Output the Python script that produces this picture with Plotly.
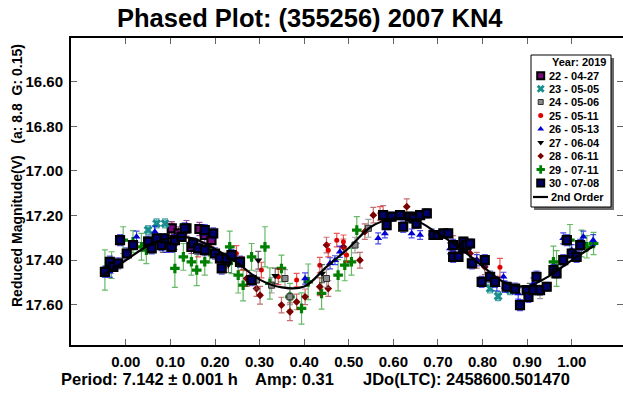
import plotly.graph_objects as go

# ---- second-order Fourier fit, sampled along phase ----
fit_phase = [-0.05, 0.00, 0.05, 0.10, 0.15, 0.20, 0.25, 0.30, 0.35, 0.40, 0.45, 0.50,
             0.55, 0.60, 0.65, 0.70, 0.75, 0.80, 0.85, 0.90, 0.95, 1.00, 1.05]
fit_mag = [17.465, 17.400, 17.335, 17.300, 17.302, 17.350, 17.412, 17.487, 17.522, 17.518,
           17.430, 17.345, 17.250, 17.213, 17.222, 17.280, 17.347, 17.427, 17.500, 17.517,
           17.470, 17.400, 17.335]

# ---- sessions (phase, reduced magnitude, error) ----
s22_phase = [0.103, 0.118, 0.136, 0.147, 0.165, 0.177, 0.192]
s22_mag = [17.257, 17.280, 17.257, 17.340, 17.260, 17.287, 17.310]
s22_err = [0.030, 0.030, 0.035, 0.030, 0.030, 0.035, 0.030]

s23_phase = [0.050, 0.069, 0.088, 0.129, 0.817, 0.835, 0.862]
s23_mag = [17.265, 17.235, 17.235, 17.257, 17.527, 17.561, 17.534]
s23_err = [0.020, 0.020, 0.020, 0.020, 0.020, 0.020, 0.020]

s24_phase = [0.224, 0.293, 0.327, 0.357, 0.368, 0.450, 0.514, 0.544, 0.929]
s24_mag = [17.400, 17.489, 17.512, 17.482, 17.564, 17.482, 17.332, 17.257, 17.542]
s24_err = [0.035, 0.040, 0.035, 0.040, 0.035, 0.040, 0.035, 0.040, 0.030]

s25_phase = [0.103, 0.162, 0.248, 0.260, 0.304, 0.342, 0.383, 0.435, 0.454, 0.473,
             0.488, 0.495, 0.570, 0.839]
s25_mag = [17.265, 17.355, 17.370, 17.414, 17.444, 17.474, 17.489, 17.422, 17.355, 17.310,
           17.317, 17.377, 17.190, 17.432]
s25_err = [0.030, 0.030, 0.035, 0.030, 0.035, 0.035, 0.030, 0.035, 0.030, 0.030,
           0.030, 0.030, 0.030, 0.040]

s26_phase = [-0.036, 0.024, 0.065, 0.091, 0.402, 0.458, 0.469, 0.480, 0.566, 0.581,
             0.641, 0.660, 0.686, 0.727, 0.746, 0.787, 0.832, 0.847, 0.850, 0.880,
             0.914, 0.981, 1.000, 1.026, 1.048]
s26_mag = [17.452, 17.295, 17.272, 17.340, 17.482, 17.414, 17.400, 17.362, 17.302, 17.280,
           17.280, 17.287, 17.280, 17.347, 17.340, 17.400, 17.512, 17.474, 17.519, 17.549,
           17.504, 17.302, 17.355, 17.295, 17.310]
s26_err = [0.025, 0.025, 0.025, 0.025, 0.025, 0.025, 0.020, 0.025, 0.025, 0.020,
           0.020, 0.020, 0.020, 0.025, 0.025, 0.025, 0.025, 0.020, 0.025, 0.025,
           0.025, 0.025, 0.025, 0.025, 0.025]

s27_phase = [0.083, 0.230, 0.297, 0.335, 0.440, 0.906]
s27_mag = [17.330, 17.420, 17.400, 17.470, 17.460, 17.534]
s27_err = [0.035, 0.035, 0.040, 0.035, 0.040, 0.030]

s28_phase = [0.271, 0.293, 0.301, 0.349, 0.368, 0.383, 0.402, 0.435, 0.450, 0.454,
             0.488, 0.525, 0.536, 0.555, 0.577, 0.630, 0.734, 0.772, 0.787, 0.805]
s28_mag = [17.482, 17.527, 17.557, 17.601, 17.631, 17.587, 17.564, 17.519, 17.332, 17.527,
           17.340, 17.400, 17.272, 17.198, 17.190, 17.160, 17.325, 17.370, 17.400, 17.430]
s28_err = [0.035, 0.035, 0.040, 0.035, 0.040, 0.035, 0.035, 0.040, 0.035, 0.035,
           0.035, 0.035, 0.035, 0.035, 0.035, 0.035, 0.035, 0.035, 0.035, 0.035]

s29_phase = [-0.047, -0.032, -0.006, 0.016, 0.035, 0.046, 0.110, 0.129, 0.147, 0.159,
             0.177, 0.188, 0.233, 0.237, 0.252, 0.263, 0.282, 0.312, 0.323, 0.349,
             0.368, 0.394, 0.409, 0.439, 0.476, 0.491, 0.506, 0.518, 0.959, 0.966,
             0.996, 1.022, 1.034, 1.049]
s29_mag = [17.444, 17.422, 17.310, 17.317, 17.340, 17.355, 17.437, 17.385, 17.407, 17.444,
           17.407, 17.362, 17.340, 17.400, 17.467, 17.512, 17.385, 17.340, 17.504, 17.437,
           17.564, 17.616, 17.497, 17.549, 17.467, 17.422, 17.407, 17.265, 17.407, 17.437,
           17.310, 17.325, 17.340, 17.325]
s29_err = [0.090, 0.060, 0.060, 0.050, 0.060, 0.060, 0.085, 0.060, 0.060, 0.070,
           0.060, 0.050, 0.070, 0.060, 0.080, 0.070, 0.060, 0.090, 0.070, 0.060,
           0.060, 0.070, 0.080, 0.070, 0.070, 0.070, 0.060, 0.060, 0.070, 0.080,
           0.070, 0.060, 0.050, 0.050]

s30_phase = [-0.047, -0.036, -0.028, -0.017, -0.013, 0.002, 0.016, 0.050, 0.058, 0.069,
             0.080, 0.087, 0.103, 0.110, 0.125, 0.132, 0.151, 0.162, 0.177, 0.177,
             0.196, 0.200, 0.211, 0.215, 0.226, 0.237, 0.256, 0.282,
             0.577, 0.585, 0.596, 0.615, 0.622, 0.637, 0.645, 0.652, 0.660, 0.675,
             0.690, 0.700, 0.712, 0.723, 0.734, 0.734, 0.746, 0.757, 0.757, 0.764,
             0.772, 0.776, 0.798, 0.805, 0.817, 0.828, 0.854, 0.873, 0.884, 0.899,
             0.903, 0.914, 0.921, 0.929, 0.944, 0.959, 0.966, 0.981, 0.989, 1.000,
             1.011, 1.019]
s30_mag = [17.452, 17.407, 17.430, 17.414, 17.310, 17.370, 17.332, 17.317, 17.347, 17.302,
           17.332, 17.302, 17.340, 17.310, 17.295, 17.257, 17.325, 17.347, 17.265, 17.355,
           17.280, 17.370, 17.392, 17.437, 17.392, 17.377, 17.407, 17.489,
           17.198, 17.243, 17.205, 17.198, 17.250, 17.205, 17.213, 17.236, 17.198, 17.190,
           17.287, 17.287, 17.280, 17.280, 17.332, 17.385, 17.385, 17.317, 17.347, 17.332,
           17.325, 17.414, 17.497, 17.400, 17.474, 17.497, 17.519, 17.527, 17.601, 17.534,
           17.564, 17.534, 17.474, 17.534, 17.519, 17.444, 17.459, 17.400, 17.310, 17.370,
           17.385, 17.332]
s30_err = [0.025, 0.025, 0.020, 0.025, 0.025, 0.025, 0.020, 0.025, 0.025, 0.020,
           0.025, 0.020, 0.025, 0.025, 0.020, 0.025, 0.025, 0.025, 0.025, 0.025,
           0.025, 0.025, 0.025, 0.025, 0.020, 0.025, 0.025, 0.025,
           0.020, 0.020, 0.020, 0.020, 0.025, 0.020, 0.020, 0.020, 0.020, 0.020,
           0.020, 0.020, 0.020, 0.020, 0.025, 0.025, 0.020, 0.020, 0.020, 0.020,
           0.020, 0.025, 0.025, 0.025, 0.025, 0.025, 0.020, 0.025, 0.025, 0.020,
           0.025, 0.020, 0.025, 0.020, 0.020, 0.025, 0.020, 0.025, 0.025, 0.020,
           0.025, 0.025]

session_labels = ["22 - 04-27", "23 - 05-05", "24 - 05-06", "25 - 05-11", "26 - 05-13",
                  "27 - 06-04", "28 - 06-11", "29 - 07-11", "30 - 07-08"]

x_ticks = [0.0, 0.1, 0.2, 0.3, 0.4, 0.5, 0.6, 0.7, 0.8, 0.9, 1.0]
y_ticks = [16.6, 16.8, 17.0, 17.2, 17.4, 17.6]

# ---- figure geometry (pixels) ----
W, H = 623, 394
ML, MR, MT, MB = 71, 0, 38, 49
PX0, PX1 = ML, W - MR
PY0, PY1 = MT, H - MB

FONT = "Liberation Sans"

# marker styles per session: symbol, size, fill, outline colour, outline width, error colour
styles = [
    ("square", 8, "#7a0a7a", "#000000", 2.2, "rgba(128,0,128,0.7)"),
    ("x", 8, "#1a8f8f", "#1a8f8f", 0, "rgba(0,128,128,0.65)"),
    ("square", 6, "#8a8a8a", "#303030", 1, "rgba(110,110,110,0.65)"),
    ("circle", 5, "#e00000", "#e00000", 0, "rgba(230,0,0,0.65)"),
    ("triangle-up", 7, "#0000d0", "#0000d0", 0, "rgba(0,0,220,0.7)"),
    ("triangle-down", 7, "#000000", "#000000", 0, "rgba(40,40,40,0.7)"),
    ("diamond", 6, "#7a0000", "#7a0000", 0, "rgba(150,20,20,0.6)"),
    ("cross", 8, "#008000", "#008000", 0, "rgba(0,140,0,0.6)"),
    ("square", 8, "#00006a", "#000000", 2.2, "rgba(20,20,210,0.7)"),
]

series = [
    (s22_phase, s22_mag, s22_err),
    (s23_phase, s23_mag, s23_err),
    (s24_phase, s24_mag, s24_err),
    (s25_phase, s25_mag, s25_err),
    (s26_phase, s26_mag, s26_err),
    (s27_phase, s27_mag, s27_err),
    (s28_phase, s28_mag, s28_err),
    (s29_phase, s29_mag, s29_err),
    (s30_phase, s30_mag, s30_err),
]

fig = go.Figure()

# draw order: green session underneath, black squares on top
order = [7, 6, 3, 2, 5, 0, 1, 4, 8]
for i in order:
    ph, mg, er = series[i]
    sym, size, fill, line_c, line_w, err_c = styles[i]
    fig.add_trace(go.Scatter(
        x=ph, y=mg, mode="markers", name=session_labels[i], showlegend=False,
        marker=dict(symbol=sym, size=size, color=fill, line=dict(color=line_c, width=line_w)),
        error_y=dict(type="data", array=er, visible=True, color=err_c, thickness=1.2, width=3),
    ))

fig.add_trace(go.Scatter(
    x=fit_phase, y=fit_mag, mode="lines", name="2nd Order", showlegend=False,
    line=dict(color="black", width=2.2, shape="spline", smoothing=1.0),
))

# legend symbols drawn on a pixel-space overlay axis
leg_x_marker = 540.7
leg_rows = [75.7, 88.7, 102.0, 115.5, 129.0, 142.5, 156.0, 169.5, 183.0]
for i, yy in enumerate(leg_rows):
    sym, size, fill, line_c, line_w, err_c = styles[i]
    fig.add_trace(go.Scatter(
        x=[leg_x_marker], y=[yy], xaxis="x2", yaxis="y2", mode="markers", showlegend=False,
        hoverinfo="skip",
        marker=dict(symbol=sym, size=max(size - 1, 5), color=fill,
                    line=dict(color=line_c, width=min(line_w, 2))),
    ))

# empty trace to carry the right-hand tick axis
fig.add_trace(go.Scatter(x=[], y=[], yaxis="y3", showlegend=False))

shapes = [
    # legend shadow and box
    dict(type="rect", xref="x2", yref="y2", x0=534, x1=614, y0=58, y1=210,
         fillcolor="#6a6a6a", line=dict(width=0), layer="below"),
    dict(type="rect", xref="x2", yref="y2", x0=531, x1=611, y0=55, y1=207,
         fillcolor="white", line=dict(color="black", width=1), layer="below"),
    dict(type="line", xref="x2", yref="y2", x0=533, x1=548, y0=197.0, y1=197.0,
         line=dict(color="black", width=2.2)),
]

ann = []
ann.append(dict(xref="x2", yref="y2", x=607.5, y=61.5, text="Year: 2019", showarrow=False,
                xanchor="right", yanchor="middle",
                font=dict(family=FONT, size=11, color="black", weight="bold")))
for i, yy in enumerate(leg_rows):
    ann.append(dict(xref="x2", yref="y2", x=546.5, y=yy, text=session_labels[i],
                    showarrow=False, xanchor="left", yanchor="middle",
                    font=dict(family=FONT, size=11, color="black", weight="bold")))
ann.append(dict(xref="x2", yref="y2", x=548.5, y=197.0, text="2nd Order", showarrow=False,
                xanchor="left", yanchor="middle",
                font=dict(family=FONT, size=11, color="black", weight="bold")))


def px_x(p):
    return (p - PX0) / (PX1 - PX0)


def px_y(p):
    return (PY1 - p) / (PY1 - PY0)


# title
ann.append(dict(xref="paper", yref="paper", x=px_x(310), y=px_y(18.5),
                text="Phased Plot: (355256) 2007 KN4", showarrow=False,
                xanchor="center", yanchor="middle",
                font=dict(family=FONT, size=25.5, color="black", weight="bold")))
# vertical axis title
ann.append(dict(xref="paper", yref="paper", x=px_x(17), y=px_y(176),
                text="Reduced Magnitude(V)   (a: 8.8  G: 0.15)", showarrow=False,
                textangle=-90, xanchor="center", yanchor="middle",
                font=dict(family=FONT, size=14, color="black", weight="bold")))
# footer
foot_font = dict(family=FONT, size=16.5, color="black", weight="bold")
ann.append(dict(xref="paper", yref="paper", x=px_x(59), y=px_y(379),
                text="Period: 7.142 ± 0.001 h", showarrow=False,
                xanchor="left", yanchor="middle", font=foot_font))
ann.append(dict(xref="paper", yref="paper", x=px_x(253), y=px_y(379),
                text="Amp: 0.31", showarrow=False,
                xanchor="left", yanchor="middle", font=foot_font))
ann.append(dict(xref="paper", yref="paper", x=px_x(360.5), y=px_y(379),
                text="JDo(LTC): 2458600.501470", showarrow=False,
                xanchor="left", yanchor="middle", font=foot_font))

tick_font = dict(family=FONT, size=15, color="black", weight="bold")
x_range = [-0.123, 1.115]
y_range = [17.78, 16.404]

fig.update_layout(
    width=W, height=H,
    margin=dict(l=ML, r=MR, t=MT, b=MB, pad=0),
    paper_bgcolor="white", plot_bgcolor="white",
    showlegend=False,
    xaxis=dict(range=x_range, tickvals=x_ticks, tickformat=".2f", ticks="inside",
               ticklen=6, tickwidth=1, tickcolor="#666666", showline=True, linewidth=2,
               linecolor="black", mirror="ticks", showgrid=False, zeroline=False,
               tickfont=tick_font, ticklabelstandoff=2),
    yaxis=dict(range=y_range, tickvals=y_ticks, tickformat=".2f", ticks="inside",
               ticklen=6, tickwidth=1, tickcolor="#666666", showline=True, linewidth=2,
               linecolor="black", mirror=False, showgrid=False, zeroline=False,
               tickfont=tick_font, ticklabelstandoff=3),
    yaxis3=dict(range=y_range, tickvals=y_ticks, overlaying="y", side="right", anchor="x",
                ticks="inside", ticklen=6, tickwidth=1, tickcolor="#666666",
                showticklabels=False, showline=False, showgrid=False, zeroline=False),
    xaxis2=dict(range=[PX0, PX1], overlaying="x", visible=False, fixedrange=True),
    yaxis2=dict(range=[PY1, PY0], overlaying="y", visible=False, fixedrange=True,
                anchor="x2"),
    shapes=shapes,
    annotations=ann,
)

fig.write_html("out.html")
